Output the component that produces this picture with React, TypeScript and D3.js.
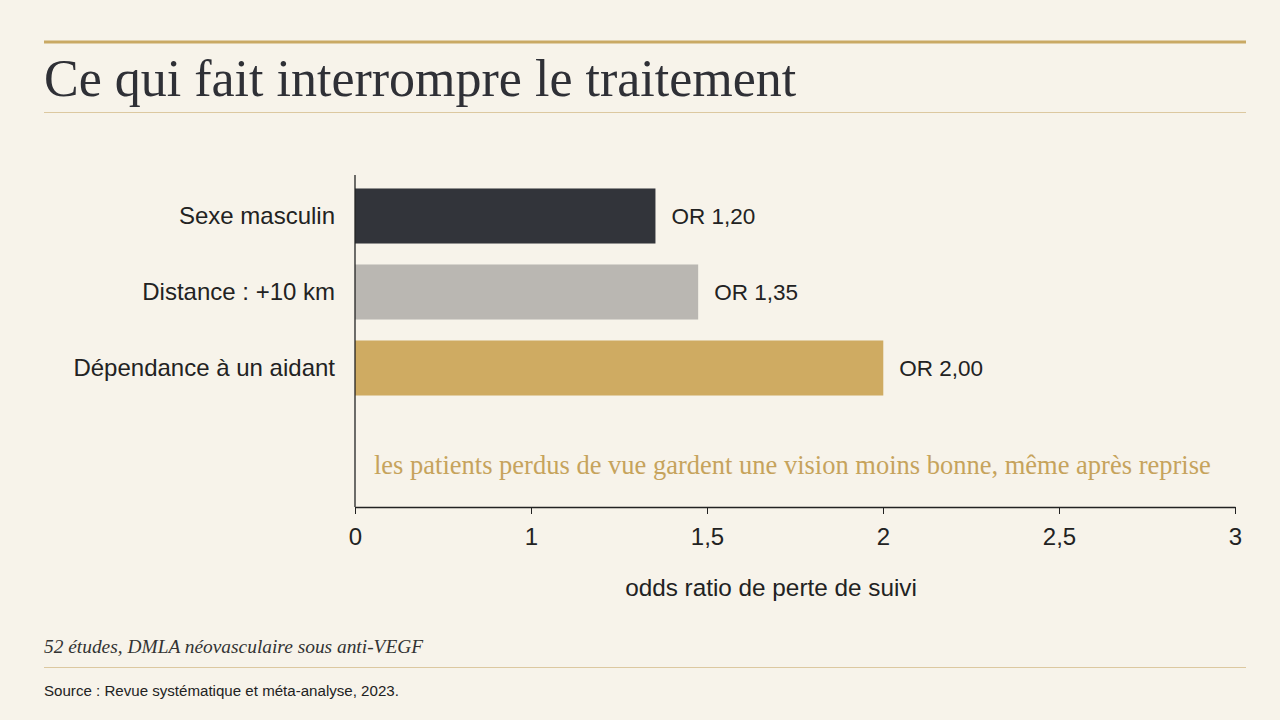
import { type FC, useEffect, useRef } from 'react';
import * as d3 from 'd3';

const categories = ['Sexe masculin', 'Distance : +10 km', 'Dépendance à un aidant'];
const oddsRatios = [1.2, 1.35, 2.0];
const valueLabels = ['OR 1,20', 'OR 1,35', 'OR 2,00'];
const tickLabels = ['0', '1', '1,5', '2', '2,5', '3'];

const title = 'Ce qui fait interrompre le traitement';
const note = 'les patients perdus de vue gardent une vision moins bonne, même après reprise';
const axisTitle = 'odds ratio de perte de suivi';
const subtitle = '52 études, DMLA néovasculaire sous anti-VEGF';
const source = 'Source : Revue systématique et méta-analyse, 2023.';

const width = 1280;
const height = 720;
const bg = '#f7f3ea';
const gold = '#c9a964';
const ink = '#2f3036';
const barColors = ['#32343a', '#bab7b2', '#cfab62'];
const serif = '"Liberation Serif", "DejaVu Serif", serif';
const sans = '"Liberation Sans", Arial, sans-serif';

const plot = { left: 355, right: 1235, top: 175, axisY: 507 };

const App: FC = () => {
  const ref = useRef<SVGSVGElement>(null);

  useEffect(() => {
    document.body.style.margin = '0';
    const svg = d3.select(ref.current);
    svg.selectAll('*').remove();

    svg.append('rect').attr('width', width).attr('height', height).attr('fill', bg);

    // header
    svg.append('line')
      .attr('x1', 44).attr('x2', 1246).attr('y1', 42).attr('y2', 42)
      .attr('stroke', gold).attr('stroke-width', 3);
    svg.append('text')
      .attr('x', 44).attr('y', 96)
      .attr('font-family', serif).attr('font-size', 52)
      .attr('fill', ink)
      .text(title);
    svg.append('line')
      .attr('x1', 44).attr('x2', 1246).attr('y1', 112.5).attr('y2', 112.5)
      .attr('stroke', '#dcc8a0').attr('stroke-width', 1);

    // scales (bar scale fitted to the drawn bar lengths)
    const x = d3.scaleLinear().domain([0.145, 3.235]).range([plot.left, plot.right]);
    const xTicks = d3.scalePoint<string>().domain(tickLabels).range([plot.left, plot.right]);
    const y = d3.scaleBand<string>()
      .domain(categories)
      .range([178, 406])
      .paddingInner(0.276)
      .paddingOuter(0.138);

    const g = svg.append('g');

    g.selectAll('rect.bar')
      .data(categories)
      .join('rect')
      .attr('class', 'bar')
      .attr('x', plot.left)
      .attr('y', (d) => y(d)!)
      .attr('width', (_d, i) => x(oddsRatios[i]) - plot.left)
      .attr('height', y.bandwidth())
      .attr('fill', (_d, i) => barColors[i]);

    g.selectAll('text.val')
      .data(categories)
      .join('text')
      .attr('class', 'val')
      .attr('x', (_d, i) => x(oddsRatios[i]) + 16)
      .attr('y', (d) => y(d)! + y.bandwidth() / 2)
      .attr('dy', '0.35em')
      .attr('font-family', sans).attr('font-size', 22.5)
      .attr('fill', '#222')
      .text((_d, i) => valueLabels[i]);

    g.selectAll('text.cat')
      .data(categories)
      .join('text')
      .attr('class', 'cat')
      .attr('x', 335)
      .attr('y', (d) => y(d)! + y.bandwidth() / 2)
      .attr('dy', '0.35em')
      .attr('text-anchor', 'end')
      .attr('font-family', sans).attr('font-size', 24)
      .attr('fill', '#222')
      .text((d) => d);

    // axes
    g.append('line')
      .attr('x1', plot.left).attr('x2', plot.left)
      .attr('y1', plot.top).attr('y2', plot.axisY)
      .attr('stroke', '#222').attr('stroke-width', 1.3);

    const xAxis = g.append('g')
      .attr('transform', `translate(0,${plot.axisY})`)
      .call(d3.axisBottom(xTicks).tickSize(7).tickPadding(14).tickSizeOuter(0));
    xAxis.select('.domain').attr('stroke', '#222').attr('stroke-width', 1.3);
    xAxis.selectAll('line').attr('stroke', '#222');
    xAxis.selectAll('text')
      .attr('font-family', sans).attr('font-size', 24).attr('fill', '#222');

    g.append('text')
      .attr('x', 771).attr('y', 596)
      .attr('text-anchor', 'middle')
      .attr('font-family', sans).attr('font-size', 24.3)
      .attr('fill', '#222')
      .text(axisTitle);

    g.append('text')
      .attr('x', 374).attr('y', 474)
      .attr('font-family', serif).attr('font-size', 26.5)
      .attr('fill', '#c6a35c')
      .text(note);

    // footer
    svg.append('text')
      .attr('x', 44).attr('y', 653)
      .attr('font-family', serif).attr('font-style', 'italic').attr('font-size', 19.4)
      .attr('fill', '#333')
      .text(subtitle);
    svg.append('line')
      .attr('x1', 44).attr('x2', 1246).attr('y1', 667.5).attr('y2', 667.5)
      .attr('stroke', '#dcc8a0').attr('stroke-width', 1);
    svg.append('text')
      .attr('x', 44).attr('y', 696)
      .attr('font-family', sans).attr('font-size', 15.1)
      .attr('fill', '#222')
      .text(source);
  }, []);

  return <svg ref={ref} width={width} height={height} style={{ display: 'block' }} />;
};

export default App;
